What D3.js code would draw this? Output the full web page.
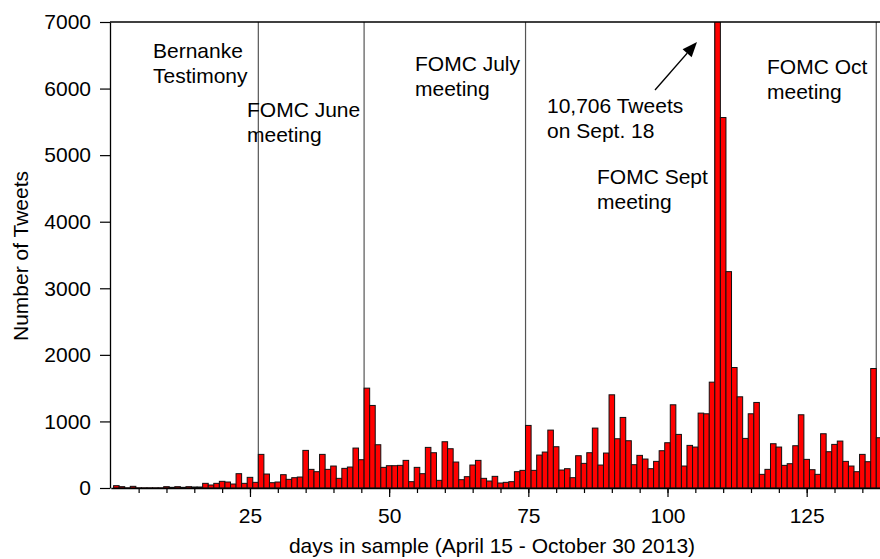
<!DOCTYPE html>
<html>
<head>
<meta charset="utf-8">
<script src="https://cdn.jsdelivr.net/npm/d3@7/dist/d3.min.js"></script>
<style>
  html, body { margin: 0; padding: 0; background: #fff; }
  svg { display: block; font-family: "Liberation Sans", Arial, Helvetica, sans-serif; }
</style>
</head>
<body>
<svg id="chart" width="880" height="559"></svg>
<script>
// ---- data ----
const days = d3.range(1, 139);
const tweets = [
  35, 20, 3, 25, 3, 3, 3, 3, 3, 20,
  10, 20, 10, 20, 15, 15, 70, 45, 70, 100,
  90, 60, 215, 70, 160, 85, 505, 210, 80, 90,
  200, 130, 155, 165, 565, 280, 245, 505, 280, 330,
  145, 295, 315, 600, 425, 1500, 1240, 650, 310, 335,
  335, 340, 415, 95, 310, 215, 610, 530, 115, 695,
  590, 390, 125, 170, 345, 415, 145, 105, 175, 75,
  85, 95, 245, 265, 940, 265, 495, 540, 870, 620,
  270, 290, 155, 485, 370, 530, 900, 345, 525, 1400,
  740, 1060, 710, 350, 490, 435, 290, 400, 560, 680,
  1250, 805, 330, 640, 615, 1125, 1115, 1590, 10706, 5565,
  3250, 1810, 1370, 745, 1115, 1285, 205, 280, 665, 615,
  340, 365, 635, 1100, 430, 275, 205, 815, 545, 655,
  705, 400, 330, 245, 505, 395, 1795, 755
];
const eventDays = [26.5, 45.5, 74.5, 108.5, 137.5];
const annotationLines = [
  ["Bernanke", "Testimony"],
  ["FOMC June", "meeting"],
  ["FOMC July", "meeting"],
  ["10,706 Tweets", "on Sept. 18"],
  ["FOMC Sept", "meeting"],
  ["FOMC Oct", "meeting"]
];
const xMajorTicks = [25, 50, 75, 100, 125];
const xMinorTicks = d3.range(5, 140, 5);
const yTicks = [0, 1000, 2000, 3000, 4000, 5000, 6000, 7000];
const xTitle = "days in sample (April 15 - October 30 2013)";
const yTitle = "Number of Tweets";

// ---- layout ----
const W = 880, H = 559;
const plotLeft = 110, plotTop = 22, plotBottom = 488;
const dayPx = 5.567, x0 = 110.8;
const annotationPos = [
  [153, 58], [247, 117], [415, 71], [547, 113], [597, 184], [767, 74]
];
const lineGap = 24.5;
const fontSize = 21;

const svg = d3.select("#chart");
const x = d3.scaleLinear().domain([0, 140]).range([x0, x0 + 140 * dayPx]);
const y = d3.scaleLinear().domain([0, 7000]).range([plotBottom, plotTop]);

svg.append("defs").append("clipPath").attr("id", "plotclip")
  .append("rect").attr("x", plotLeft).attr("y", plotTop)
  .attr("width", W - plotLeft + 20).attr("height", plotBottom - plotTop);

const plot = svg.append("g").attr("clip-path", "url(#plotclip)");

// event lines
plot.selectAll("line.event").data(eventDays).enter().append("line")
  .attr("class", "event")
  .attr("x1", d => x(d)).attr("x2", d => x(d))
  .attr("y1", plotTop).attr("y2", plotBottom)
  .attr("stroke", "#555").attr("stroke-width", 1.2);

// bars
plot.selectAll("rect.bar").data(days).enter().append("rect")
  .attr("class", "bar")
  .attr("x", d => x(d - 0.5))
  .attr("width", x(1) - x(0))
  .attr("y", (d, i) => y(tweets[i]))
  .attr("height", (d, i) => y(0) - y(tweets[i]))
  .attr("fill", "#ff0000")
  .attr("stroke", "#111")
  .attr("stroke-width", 1);

// top frame
svg.append("line").attr("x1", plotLeft).attr("x2", W)
  .attr("y1", plotTop).attr("y2", plotTop)
  .attr("stroke", "#000").attr("stroke-width", 1.3);

// y axis
const yAxis = svg.append("g").attr("transform", `translate(${plotLeft},0)`)
  .call(d3.axisLeft(y).tickValues(yTicks).tickSize(10).tickSizeOuter(0).tickPadding(9)
    .tickFormat(d3.format("d")));
yAxis.select(".domain").attr("stroke", "#000").attr("stroke-width", 1.3);
yAxis.selectAll(".tick line").attr("stroke", "#000").attr("stroke-width", 1.2);
yAxis.selectAll("text").attr("font-size", fontSize).attr("fill", "#000")
  .attr("font-family", "Liberation Sans, Arial, sans-serif");

// x axis minor
const xMinor = svg.append("g").attr("transform", `translate(0,${plotBottom})`)
  .call(d3.axisBottom(x).tickValues(xMinorTicks).tickSize(5).tickSizeOuter(0).tickFormat(""));
xMinor.select(".domain").attr("stroke", "#000").attr("stroke-width", 1.3);
xMinor.selectAll(".tick line").attr("stroke", "#000").attr("stroke-width", 1.2);

// x axis major
const xMajor = svg.append("g").attr("transform", `translate(0,${plotBottom})`)
  .call(d3.axisBottom(x).tickValues(xMajorTicks).tickSize(9).tickSizeOuter(0).tickPadding(6));
xMajor.select(".domain").remove();
xMajor.selectAll(".tick line").attr("stroke", "#000").attr("stroke-width", 1.2);
xMajor.selectAll("text").attr("font-size", fontSize).attr("fill", "#000")
  .attr("font-family", "Liberation Sans, Arial, sans-serif")
  .attr("dy", null).attr("y", 35);

// axis titles
svg.append("text").attr("x", 492).attr("y", 553)
  .attr("text-anchor", "middle").attr("font-size", fontSize).attr("fill", "#000")
  .text(xTitle);
svg.append("text").attr("transform", "translate(28,256) rotate(-90)")
  .attr("text-anchor", "middle").attr("font-size", fontSize).attr("fill", "#000")
  .text(yTitle);

// annotations
annotationLines.forEach((lines, i) => {
  const [ax, ay] = annotationPos[i];
  const t = svg.append("text").attr("font-size", fontSize).attr("fill", "#000");
  lines.forEach((s, j) => {
    t.append("tspan").attr("x", ax).attr("y", ay + j * lineGap).text(s);
  });
});

// arrow
const a0 = [655, 90], a1 = [697, 42];
const ang = Math.atan2(a1[1] - a0[1], a1[0] - a0[0]);
const headLen = 15, headW = 6;
const bx = a1[0] - headLen * Math.cos(ang), by = a1[1] - headLen * Math.sin(ang);
svg.append("line").attr("x1", a0[0]).attr("y1", a0[1]).attr("x2", bx).attr("y2", by)
  .attr("stroke", "#000").attr("stroke-width", 1.3);
svg.append("path")
  .attr("d", `M${a1[0]},${a1[1]} L${bx + headW * Math.sin(ang)},${by - headW * Math.cos(ang)} L${bx - headW * Math.sin(ang)},${by + headW * Math.cos(ang)} Z`)
  .attr("fill", "#000");
</script>
</body>
</html>
